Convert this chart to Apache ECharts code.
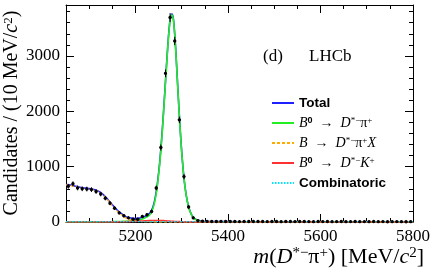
<!DOCTYPE html>
<html><head><meta charset="utf-8">
<script src="https://cdn.jsdelivr.net/npm/echarts@6/dist/echarts.min.js"></script>
<style>html,body{margin:0;padding:0;background:#fff}#c{width:436px;height:272px}</style>
</head><body><div id="c"></div>
<script>
// ---- data ----
const binCenters = [5055,5065,5075,5085,5095,5105,5115,5125,5135,5145,5155,5165,5175,5185,5195,5205,5215,5225,5235,5245,5255,5265,5275,5285,5295,5305,5315,5325,5335,5345,
5355,5365,5375,5385,5395,5405,5415,5425,5435,5445,5455,5465,5475,5485,5495,5505,5515,5525,5535,5545,5555,5565,5575,5585,5595,5605,5615,5625,5635,5645,5655,5665,5675,5685,5695,5705,5715,5725,5735,5745,5755,5765,5775,5785,5795];
const candidates = [645,690,615,600,595,585,550,505,430,340,250,165,112,75,50,50,100,130,190,615,1345,2685,3695,3270,1845,820,270,75,25,15,
12,10,9,11,8,10,9,7,10,8,9,8,10,7,9,8,6,9,8,7,9,8,7,6,8,7,9,6,7,8,6,7,8,6,7,6,8,6,7,5,6,7,6,5,6];

const curveX = [5050,5060,5070,5080,5090,5100,5110,5120,5130,5140,5150,5160,5170,5180,5190,5200,5210,5220,5230,5235,5240,5243,5246,5249,5252,5255,5258,5261,5264,5267,5270,5273,5276,5279,5282,5285,5288,5291,5294,5297,5300,5303,5306,5310,5315,5320,5325,5330,5335,5340,5350,5370,5400,5450,5500,5550,5600,5650,5700,5750,5800];
const totalFit = [677,667,647,628,613,603,588,557,500,412,313,221,149,93,71,62,71,100,151,211,331,451,592,802,1032,1321,1650,2019,2407,2805,3183,3501,3719,3757,3676,3395,2994,2523,2072,1651,1280,969,719,478,277,157,86,51,31,20,10,7,6,5,5,5,5,5,5,5,5];
const sigB0Dpi = [1,1,1,2,2,2,3,3,4,5,6,8,10,12,17,25,40,70,120,180,300,420,560,770,1000,1290,1620,1990,2380,2780,3160,3480,3700,3740,3660,3380,2980,2510,2060,1640,1270,960,710,470,270,150,80,45,25,14,5,2,1,0,0,0,0,0,0,0,0];
const bkgDpiX = [670,660,640,620,605,595,578,548,490,400,300,205,130,70,40,20,10,5,2,1,0,0,0,0,0,0,0,0,0,0,0,0,0,0,0,0,0,0,0,0,0,0,0,0,0,0,0,0,0,0,0,0,0,0,0,0,0,0,0,0,0];
const bkgDK = [0,0,0,0,0,0,1,1,1,2,2,3,4,6,9,12,16,20,24,25,26,26,27,27,27,26,25,24,22,20,18,16,14,12,11,10,9,8,7,6,5,4,4,3,2,2,1,1,1,1,0,0,0,0,0,0,0,0,0,0,0];
const combinatoric = [6,6,6,6,6,6,6,5,5,5,5,5,5,5,5,5,5,5,5,5,5,5,5,5,5,5,5,5,5,5,5,5,5,5,5,5,5,5,5,5,5,5,5,5,5,5,5,5,5,5,5,5,5,5,5,5,5,5,5,5,5];

const xMajorTicks = [5200,5400,5600,5800];
const yMajorTicks = [0,1000,2000,3000];
const seriesNames = ['Total','B0Dpi','BDpiX','B0DK','Combinatoric'];

// ---- chart ----
const SERIF = 'Liberation Serif';
const SANS = 'Liberation Sans';
const rich = {
  r: {fontFamily: SERIF, fontSize: 14, color: '#000'},
  i: {fontFamily: SERIF, fontSize: 14, fontStyle: 'italic', color: '#000'},
  s: {fontFamily: SERIF, fontSize: 9, color: '#000', verticalAlign: 'top'},
  s0: {fontFamily: SANS, fontSize: 9, fontWeight: 'bold', color: '#000', verticalAlign: 'top'},
  b: {fontFamily: SANS, fontSize: 13.5, fontWeight: 'bold', color: '#000'}
};
const richBig = {
  r: {fontFamily: SERIF, fontSize: 20, color: '#000'},
  i: {fontFamily: SERIF, fontSize: 20, fontStyle: 'italic', color: '#000'},
  s: {fontFamily: SERIF, fontSize: 13, color: '#000', verticalAlign: 'top'}
};
const richX = {
  r: {fontFamily: SERIF, fontSize: 22, color: '#000'},
  i: {fontFamily: SERIF, fontSize: 22, fontStyle: 'italic', color: '#000'},
  s: {fontFamily: SERIF, fontSize: 15, color: '#000', verticalAlign: 'top'}
};
const legendText = {
  'Total': '{b|Total}',
  'B0Dpi': '{i|B}{s0|0}{r|  →  }{i|D}{s|*−}{r|π}{s|+}',
  'BDpiX': '{i|B}{r|  →  }{i|D}{s|*−}{r|π}{s|+}{i|X}',
  'B0DK': '{i|B}{s0|0}{r|  →  }{i|D}{s|*−}{i|K}{s|+}',
  'Combinatoric': '{b|Combinatoric}'
};

function pairs(ys) { return curveX.map((x, i) => [x, ys[i]]); }
function lineSeries(name, ys, color, type, width) {
  return {
    name, type: 'line', xAxisIndex: 0, yAxisIndex: 0, data: pairs(ys),
    symbol: 'none', showSymbol: false, smooth: 0.25,
    lineStyle: {color, width, type}, itemStyle: {color}
  };
}

const plain = v => String(v);
const axLine = {show: true, onZero: false, lineStyle: {color: '#000', width: 1}};
const noLine = {show: false, onZero: false};
function xAx(pos, major) {
  return {
    type: 'value', position: pos, min: 5050, max: 5800,
    interval: major ? undefined : 50,
    axisLine: major ? axLine : noLine,
    axisTick: major ? {inside: true, length: 8, customValues: xMajorTicks, lineStyle: {color: '#000'}}
                    : {inside: true, length: 4, lineStyle: {color: '#000'}},
    axisLabel: (major && pos === 'bottom') ? {customValues: xMajorTicks, formatter: plain, fontFamily: SERIF, fontSize: 17, color: '#000', margin: 6} : {show: false},
    splitLine: {show: false}
  };
}
function yAx(pos, major) {
  return {
    type: 'value', position: pos, min: 0, max: 3920,
    interval: major ? undefined : 200,
    axisLine: major ? axLine : noLine,
    axisTick: major ? {inside: true, length: 8, customValues: yMajorTicks, lineStyle: {color: '#000'}}
                    : {inside: true, length: 4, lineStyle: {color: '#000'}},
    axisLabel: (major && pos === 'left') ? {customValues: yMajorTicks, formatter: plain, fontFamily: SERIF, fontSize: 17, color: '#000', margin: 6} : {show: false},
    splitLine: {show: false}
  };
}

const chart = echarts.init(document.getElementById('c'), null, {renderer: 'canvas'});
chart.setOption({
  animation: false,
  backgroundColor: '#fff',
  grid: {left: 66, right: 23, top: 5, bottom: 50, containLabel: false},
  xAxis: [xAx('bottom', true), xAx('bottom', false), xAx('top', true), xAx('top', false)],
  yAxis: [yAx('left', true), yAx('left', false), yAx('right', true), yAx('right', false)],
  legend: {
    orient: 'vertical', left: 266, top: 91, itemWidth: 22, itemHeight: 14, itemGap: 6,
    selectedMode: false, data: seriesNames,
    itemStyle: {opacity: 0},
    formatter: n => legendText[n],
    textStyle: {rich}
  },
  series: [
    lineSeries('Total', totalFit, '#1f1fff', 'solid', 1.6),
    lineSeries('B0Dpi', sigB0Dpi, '#22ee22', 'solid', 1.6),
    lineSeries('BDpiX', bkgDpiX, '#ffaa00', [3, 2], 1.3),
    lineSeries('B0DK', bkgDK, '#ff3030', 'solid', 1.6),
    lineSeries('Combinatoric', combinatoric, '#00e5ff', [1.5, 1.5], 1.3),
    {
      name: 'data', type: 'custom', xAxisIndex: 0, yAxisIndex: 0, z: 10,
      data: binCenters.map((x, i) => [x, candidates[i]]),
      renderItem(params, api) {
        const x = api.value(0), y = api.value(1), e = Math.sqrt(y);
        const p = api.coord([x, y]);
        const t = api.coord([x, y + e]);
        const b = api.coord([x, Math.max(0, y - e)]);
        return {type: 'group', children: [
          {type: 'line', shape: {x1: p[0], y1: t[1] - 1, x2: p[0], y2: b[1] + 1}, style: {stroke: '#000', lineWidth: 1}},
          {type: 'circle', shape: {cx: p[0], cy: p[1], r: 1.7}, style: {fill: '#000'}}
        ]};
      }
    }
  ],
  graphic: [
    {type: 'text', x: 12, y: 113, rotation: Math.PI / 2,
     style: {text: '{r|Candidates / (10 MeV/}{i|c}{s|2}{r|)}', rich: richBig, align: 'center', verticalAlign: 'middle'}},
    {type: 'text', x: 424, y: 257,
     style: {text: '{i|m}{r|(}{i|D}{s|*−}{r|π}{s|+}{r|) [MeV/}{i|c}{s|2}{r|]}', rich: richX, align: 'right', verticalAlign: 'middle'}},
    {type: 'text', x: 273, y: 57,
     style: {text: '(d)', font: '17px "Liberation Serif"', fill: '#000', align: 'center', verticalAlign: 'middle'}},
    {type: 'text', x: 309, y: 57,
     style: {text: 'LHCb', font: '17px "Liberation Serif"', fill: '#000', align: 'left', verticalAlign: 'middle'}}
  ]
});
</script></body></html>
